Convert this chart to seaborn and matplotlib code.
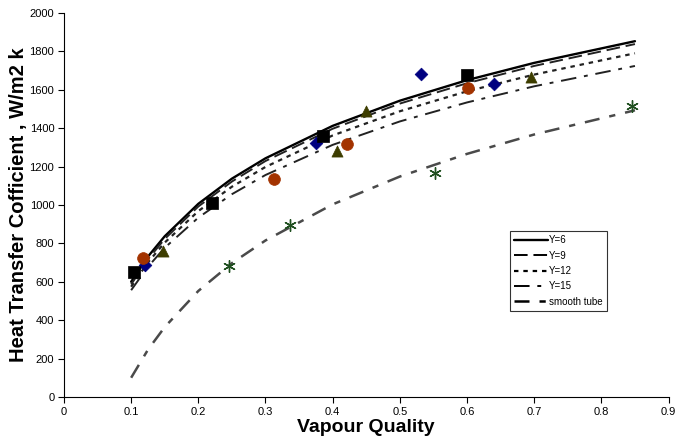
import matplotlib
matplotlib.use("Agg")
import matplotlib.pyplot as plt
import seaborn as sns
import pandas as pd

sns.set_theme(style="white")
plt.rcParams['font.family'] = ['Liberation Sans', 'DejaVu Sans']
plt.rcParams['text.color'] = 'black'
plt.rcParams['axes.labelcolor'] = 'black'

# Trend-line readings
curve_x = [0.1, 0.125, 0.15, 0.2, 0.25, 0.3, 0.4, 0.5, 0.6, 0.7, 0.85]
y6 = [600, 731, 837, 1006, 1137, 1243, 1412, 1543, 1650, 1740, 1853]
y9 = [586, 717, 823, 992, 1122, 1229, 1397, 1528, 1634, 1724, 1838]
y12 = [574, 701, 804, 968, 1095, 1198, 1362, 1488, 1592, 1679, 1790]
y15 = [556, 678, 777, 934, 1056, 1156, 1313, 1435, 1534, 1618, 1724]
smooth = [100, 246, 364, 552, 697, 815, 1003, 1148, 1266, 1367, 1493]

# Experimental points
diam_x = [0.121, 0.375, 0.532, 0.640]
diam_y = [688, 1321, 1682, 1630]
sq_x = [0.104, 0.221, 0.385, 0.600]
sq_y = [649, 1009, 1361, 1677]
tri_x = [0.147, 0.407, 0.449, 0.695]
tri_y = [760, 1281, 1490, 1668]
circ_x = [0.118, 0.312, 0.422, 0.602]
circ_y = [724, 1135, 1318, 1611]
star_x = [0.246, 0.336, 0.552, 0.845]
star_y = [682, 894, 1165, 1516]

x_ticks = [0, 0.1, 0.2, 0.3, 0.4, 0.5, 0.6, 0.7, 0.8, 0.9]
x_ticklabels = ['0', '0.1', '0.2', '0.3', '0.4', '0.5', '0.6', '0.7', '0.8', '0.9']
y_ticks = [0, 200, 400, 600, 800, 1000, 1200, 1400, 1600, 1800, 2000]

fig = plt.figure(figsize=(6.77, 4.47), dpi=100)
ax = fig.add_axes([0.0945, 0.112, 0.893, 0.859])

curves = [
    ("Y=6", y6, dict(color='black', lw=1.7, linestyle='-')),
    ("Y=9", y9, dict(color='#222222', lw=1.4, linestyle=(0, (7, 3)))),
    ("Y=12", y12, dict(color='#222222', lw=1.6, linestyle=(0, (2, 2.2)))),
    ("Y=15", y15, dict(color='#222222', lw=1.4, linestyle=(0, (8, 4, 2, 4)))),
    ("smooth tube", smooth, dict(color='#4a4a4a', lw=1.8, linestyle=(0, (6, 4, 2.5, 4)))),
]
for name, vals, kw in curves:
    df = pd.DataFrame({'x': curve_x, 'y': vals})
    sns.lineplot(data=df, x='x', y='y', ax=ax, label=name, estimator=None, sort=False, **kw)

pts = [
    (diam_x, diam_y, 'D', '#000080', 42),
    (sq_x, sq_y, 's', 'black', 64),
    (tri_x, tri_y, '^', '#3d3d00', 64),
    (circ_x, circ_y, 'o', '#a33300', 72),
]
for xs, ys, m, c, s in pts:
    sns.scatterplot(x=xs, y=ys, marker=m, color=c, s=s, edgecolor=c, linewidth=0.5, ax=ax, legend=False, zorder=5)
sns.scatterplot(x=star_x, y=star_y, marker=(6, 2, 0), color='#1f4f1f', s=70, linewidth=1.0, ax=ax, legend=False, zorder=5)

ax.set_xlim(0, 0.9)
ax.set_ylim(0, 2000)
ax.set_xticks(x_ticks)
ax.set_xticklabels(x_ticklabels)
ax.set_yticks(y_ticks)
ax.tick_params(axis='both', direction='out', length=4, width=0.8, labelsize=8, colors='black',
               labelcolor='black', left=True, bottom=True, pad=3)
for side in ['top', 'right']:
    ax.spines[side].set_visible(False)
for side in ['left', 'bottom']:
    ax.spines[side].set_color('black')
    ax.spines[side].set_linewidth(0.8)

ax.set_xlabel('Vapour Quality', fontsize=14, fontweight='bold', labelpad=2, color='black')
ax.set_ylabel('Heat Transfer Cofficient , W/m2 k', fontsize=14.5, fontweight='bold', labelpad=1, color='black')

leg = ax.legend(loc='upper left', bbox_to_anchor=(0.737, 0.432), fontsize=7, frameon=True,
                fancybox=False, edgecolor='black', handlelength=3.5, handletextpad=0.1,
                borderpad=0.45, labelspacing=0.55, borderaxespad=0)
leg.get_frame().set_linewidth(0.8)
for h in leg.get_lines():
    h.set_color('black')
for t in leg.get_texts():
    t.set_color('black')

fig.savefig('out.png', dpi=100)
